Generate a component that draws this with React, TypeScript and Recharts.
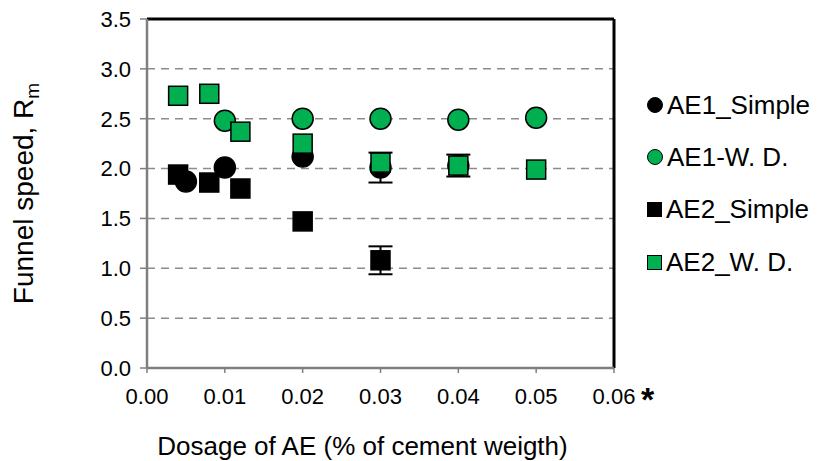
import React from "react";
import {
  ScatterChart,
  Scatter,
  XAxis,
  YAxis,
  CartesianGrid,
  ReferenceLine,
  ErrorBar,
  Label,
} from "recharts";

// AE1_Simple (black circles)
const ae1SimpleDosage = [0.005, 0.01, 0.02, 0.03, 0.04];
const ae1SimpleSpeed = [1.87, 2.01, 2.12, 2.01, 2.03];
const ae1SimpleErr = [0, 0, 0, 0.15, 0.11];

// AE1-W. D. (green circles)
const ae1WdDosage = [0.01, 0.02, 0.03, 0.04, 0.05];
const ae1WdSpeed = [2.48, 2.5, 2.5, 2.49, 2.51];

// AE2_Simple (black squares)
const ae2SimpleDosage = [0.004, 0.008, 0.012, 0.02, 0.03];
const ae2SimpleSpeed = [1.94, 1.86, 1.8, 1.47, 1.08];
const ae2SimpleErr = [0, 0, 0, 0, 0.14];

// AE2_W. D. (green squares)
const ae2WdDosage = [0.004, 0.008, 0.012, 0.02, 0.03, 0.04, 0.05];
const ae2WdSpeed = [2.73, 2.75, 2.37, 2.25, 2.06, 2.03, 1.99];

const xTicks = [0, 0.01, 0.02, 0.03, 0.04, 0.05, 0.06];
const yTicks = [0, 0.5, 1, 1.5, 2, 2.5, 3, 3.5];

const seriesNames = ["AE1_Simple", "AE1-W. D.", "AE2_Simple", "AE2_W. D."];

const GREEN = "#00B050";
const FONT = "'Liberation Sans', Arial, sans-serif";
const W = 819;
const H = 461;
const MARGIN = { top: 19, right: 205, bottom: 0, left: 0 };

const toPoints = (xs: number[], ys: number[], errs?: number[]) =>
  xs.map((x, i) => ({ x, y: ys[i], err: errs ? errs[i] : 0 }));

const circleShape = (fill: string) => (p: any) => (
  <circle cx={p.cx} cy={p.cy} r={10.5} fill={fill} stroke="#000" strokeWidth={1.5} />
);

const squareShape = (fill: string) => (p: any) => (
  <rect x={p.cx - 9.5} y={p.cy - 9.5} width={19} height={19} fill={fill} stroke="#000" strokeWidth={1.5} />
);

const legendItems = [
  { name: seriesNames[0], fill: "#000", round: true },
  { name: seriesNames[1], fill: GREEN, round: true },
  { name: seriesNames[2], fill: "#000", round: false },
  { name: seriesNames[3], fill: GREEN, round: false },
];

const XTitle = (props: any) => {
  const vb = props.viewBox;
  return (
    <g>
      <text x={vb.x + vb.width / 2 - 18} y={455} textAnchor="middle" fontSize={26} fontFamily={FONT} fill="#000">
        Dosage of AE (% of cement weigth)
      </text>
      <text x={vb.x + vb.width + 27} y={411} fontSize={34} fontWeight="bold" fontFamily={FONT} fill="#000">
        *
      </text>
    </g>
  );
};

const YTitle = (props: any) => {
  const vb = props.viewBox;
  const cy = vb.y + vb.height / 2;
  return (
    <text
      x={33}
      y={cy}
      transform={`rotate(-90, 33, ${cy})`}
      textAnchor="middle"
      fontSize={28}
      fontFamily={FONT}
      fill="#000"
    >
      Funnel speed, R<tspan dy={6} fontSize={19}>m</tspan>
    </text>
  );
};

// axes shared by both layers; the top layer keeps the same geometry but draws nothing
const axes = (visible: boolean) => {
  const axisGray = "#7f7f7f";
  return [
    <XAxis
      key="x"
      type="number"
      dataKey="x"
      domain={[0, 0.06]}
      ticks={xTicks}
      tickFormatter={(v: number) => v.toFixed(2)}
      height={93}
      tickSize={5}
      tickMargin={15}
      axisLine={visible ? { stroke: axisGray, strokeWidth: 2.5 } : false}
      tickLine={visible ? { stroke: axisGray, strokeWidth: 1.5 } : false}
      tick={visible ? { fill: "#000", fontSize: 22, fontFamily: FONT } : false}
      allowDataOverflow
    >
      {visible && <Label content={XTitle} />}
    </XAxis>,
    <YAxis
      key="y"
      type="number"
      dataKey="y"
      domain={[0, 3.5]}
      ticks={yTicks}
      tickFormatter={(v: number) => v.toFixed(1)}
      width={147}
      tickSize={7}
      tickMargin={9}
      axisLine={visible ? { stroke: axisGray, strokeWidth: 2.5 } : false}
      tickLine={visible ? { stroke: axisGray, strokeWidth: 1.5 } : false}
      tick={visible ? { fill: "#000", fontSize: 22, fontFamily: FONT } : false}
      allowDataOverflow
    >
      {visible && <Label content={YTitle} />}
    </YAxis>,
  ];
};

export default function App() {
  return (
    <div style={{ position: "absolute", left: 0, top: 0, width: W, height: H, background: "#fff" }}>
      {/* bottom layer: grid, axes, frame and AE1_Simple (its error bars sit under the green squares) */}
      <div style={{ position: "absolute", left: 0, top: 0 }}>
        <ScatterChart width={W} height={H} margin={MARGIN}>
          <CartesianGrid vertical={false} stroke="#8c8c8c" strokeWidth={1.5} strokeDasharray="8 6" />
          {axes(true)}
          <ReferenceLine y={3.5} stroke="#000" strokeWidth={3} />
          <ReferenceLine x={0.06} stroke="#000" strokeWidth={3} />
          <Scatter
            name={seriesNames[0]}
            data={toPoints(ae1SimpleDosage, ae1SimpleSpeed, ae1SimpleErr)}
            shape={circleShape("#000")}
            isAnimationActive={false}
          >
            <ErrorBar dataKey="err" direction="y" width={12} stroke="#000" strokeWidth={2} />
          </Scatter>
        </ScatterChart>
      </div>
      {/* top layer: the other three series */}
      <div style={{ position: "absolute", left: 0, top: 0 }}>
        <ScatterChart width={W} height={H} margin={MARGIN}>
          {axes(false)}
          <Scatter
            name={seriesNames[1]}
            data={toPoints(ae1WdDosage, ae1WdSpeed)}
            shape={circleShape(GREEN)}
            isAnimationActive={false}
          />
          <Scatter
            name={seriesNames[2]}
            data={toPoints(ae2SimpleDosage, ae2SimpleSpeed, ae2SimpleErr)}
            shape={squareShape("#000")}
            isAnimationActive={false}
          >
            <ErrorBar dataKey="err" direction="y" width={12} stroke="#000" strokeWidth={2} />
          </Scatter>
          <Scatter
            name={seriesNames[3]}
            data={toPoints(ae2WdDosage, ae2WdSpeed)}
            shape={squareShape(GREEN)}
            isAnimationActive={false}
          />
        </ScatterChart>
      </div>
      <div style={{ position: "absolute", left: 647, top: 79, fontFamily: FONT, fontSize: 26, color: "#000" }}>
        {legendItems.map((it) => (
          <div key={it.name} style={{ display: "flex", alignItems: "center", height: 52.3 }}>
            <span
              style={{
                display: "inline-block",
                width: it.round ? 16 : 15,
                height: it.round ? 16 : 15,
                borderRadius: it.round ? "50%" : 0,
                background: it.fill,
                border: "1.5px solid #000",
                boxSizing: "border-box",
                marginRight: 4,
              }}
            />
            <span>{it.name}</span>
          </div>
        ))}
      </div>
    </div>
  );
}
